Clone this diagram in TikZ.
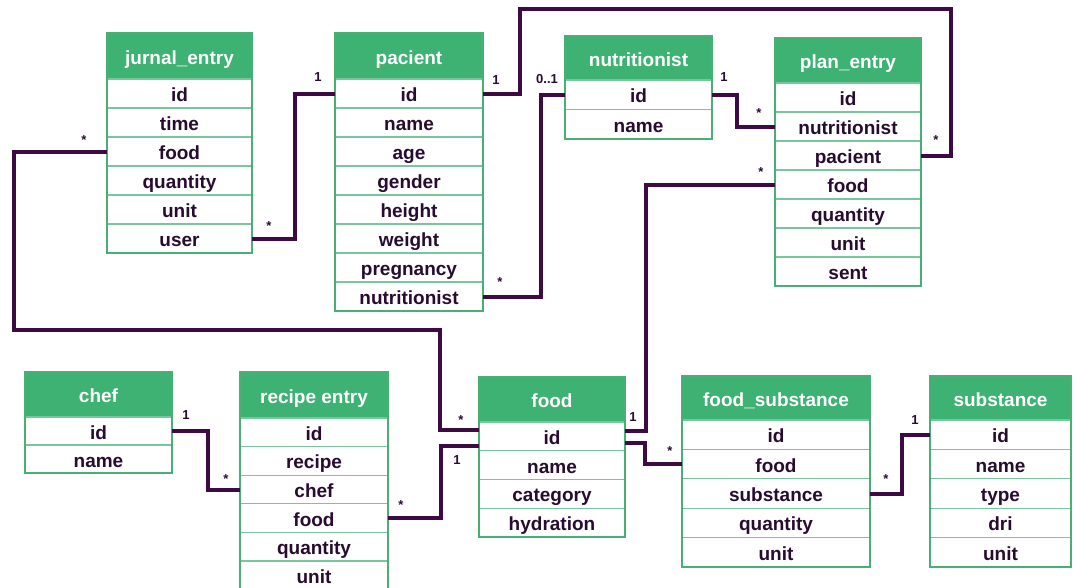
\documentclass[tikz,border=0pt]{standalone}
\usepackage{fontspec}
\setmainfont{Liberation Sans}
\usetikzlibrary{calc}

\definecolor{hgreen}{RGB}{61,178,114}
\definecolor{fgreen}{RGB}{72,176,116}
\definecolor{sgreen}{RGB}{120,198,155}
\definecolor{relcol}{RGB}{62,10,68}
\definecolor{ink}{RGB}{40,12,48}

\tikzset{
  head/.style={fill=hgreen, draw=hgreen, line width=1pt, text=white,
    font=\fontsize{19}{22}\selectfont\bfseries, inner sep=0pt, outer sep=0pt,
    text height=17pt, text depth=1pt},
  row/.style={draw=sgreen, line width=1.2pt, text=ink,
    font=\fontsize{19}{22}\selectfont\bfseries, inner sep=0pt, outer sep=0pt,
    text height=17pt, text depth=1pt},
  tframe/.style={draw=fgreen, line width=2pt},
  rel/.style={draw=relcol, line width=4pt},
  mult/.style={text=ink, font=\fontsize{13}{15}\selectfont\bfseries, inner sep=0pt}
}

% \erdtable{name}{x left}{x right}{y top}{y header bottom}{row height}{title}{fields}
\newcommand\erdtable[8]{%
  \pgfmathsetmacro\tw{#3-#2}%
  \node[head, minimum width=\tw pt, minimum height={(#5-#4)*1pt}, anchor=north west]
    (#1-head) at (#2,#4) {#7};
  \foreach \f [count=\i] in {#8} {
    \node[row, minimum width=\tw pt, minimum height=#6 pt, anchor=north west]
      (#1-\f) at (#2,{#5+(\i-1)*#6}) {\f};
    \xdef\lastrow{\f}
  }
  \draw[tframe] (#1-head.north west) rectangle (#1-\lastrow.south east);
}

\begin{document}
\begin{tikzpicture}[x=1pt, y=-1pt]
\useasboundingbox[fill=white] (0,0) rectangle (1075,587);

% tables
\erdtable{je}{107}{252}{33}{79}{29}{jurnal\_entry}{id,time,food,quantity,unit,user}
\erdtable{pac}{335}{483}{33}{79}{29}{pacient}{id,name,age,gender,height,weight,pregnancy,nutritionist}
\erdtable{nut}{565}{712}{36}{80}{29.5}{nutritionist}{id,name}
\erdtable{plan}{775}{921}{38}{83}{29}{plan\_entry}{id,nutritionist,pacient,food,quantity,unit,sent}
\erdtable{chef}{25}{172}{372}{417}{28}{chef}{id,name}
\erdtable{rec}{240}{388}{372}{418}{28.6}{recipe entry}{id,recipe,chef,food,quantity,unit}
\erdtable{food}{479}{625}{377}{422}{28.75}{food}{id,name,category,hydration}
\erdtable{fs}{682}{870}{376}{420}{29.4}{food\_substance}{id,food,substance,quantity,unit}
\erdtable{sub}{930}{1071}{376}{420}{29.4}{substance}{id,name,type,dri,unit}

% attachment points on the food id row
\coordinate (food-inA) at ($(food-id.west)+(0,-6)$);
\coordinate (food-inB) at ($(food-id.west)+(0,10)$);
\coordinate (food-outA) at ($(food-id.east)+(0,-5)$);
\coordinate (food-outB) at ($(food-id.east)+(0,7)$);

% relations
\draw[rel] (je-user.east) -- ++(43,0) |- (pac-id.west);
\draw[rel] (je-food.west) -| (14,330) -- (440,330) |- (food-inA);
\draw[rel] (pac-id.east) -- ++(37,0) |- (951,9) |- (plan-pacient.east);
\draw[rel] (pac-nutritionist.east) -- ++(58,0) |- (nut-id.west);
\draw[rel] (nut-id.east) -- ++(25,0) |- (plan-nutritionist.west);
\draw[rel] (plan-food.west) -| ($(food-outA)+(21,0)$) -- (food-outA);
\draw[rel] (food-outB) -- ++(20,0) |- (fs-food.west);
\draw[rel] (fs-substance.east) -- ++(32,0) |- (sub-id.west);
\draw[rel] (chef-id.east) -- ++(36,0) |- (rec-chef.west);
\draw[rel] (rec-food.east) -- ++(53,0) |- (food-inB);

% multiplicities
\node[mult] (m1) at (269,226) {*};
\node[mult] (m2) at (318,77) {1};
\node[mult] (m3) at (84,140) {*};
\node[mult] (m4) at (461,420) {*};
\node[mult] (m5) at (496,80) {1};
\node[mult] (m6) at (936,140) {*};
\node[mult] (m7) at (500,282) {*};
\node[mult] (m8) at (547,79) {0..1};
\node[mult] (m9) at (724,77) {1};
\node[mult] (m10) at (759,113) {*};
\node[mult] (m11) at (761,172) {*};
\node[mult] (m12) at (633,417) {1};
\node[mult] (m13) at (670,451) {*};
\node[mult] (m14) at (886,479) {*};
\node[mult] (m15) at (915,420) {1};
\node[mult] (m16) at (186,415) {1};
\node[mult] (m17) at (226,479) {*};
\node[mult] (m18) at (401,505) {*};
\node[mult] (m19) at (457,460) {1};
\end{tikzpicture}
\end{document}
